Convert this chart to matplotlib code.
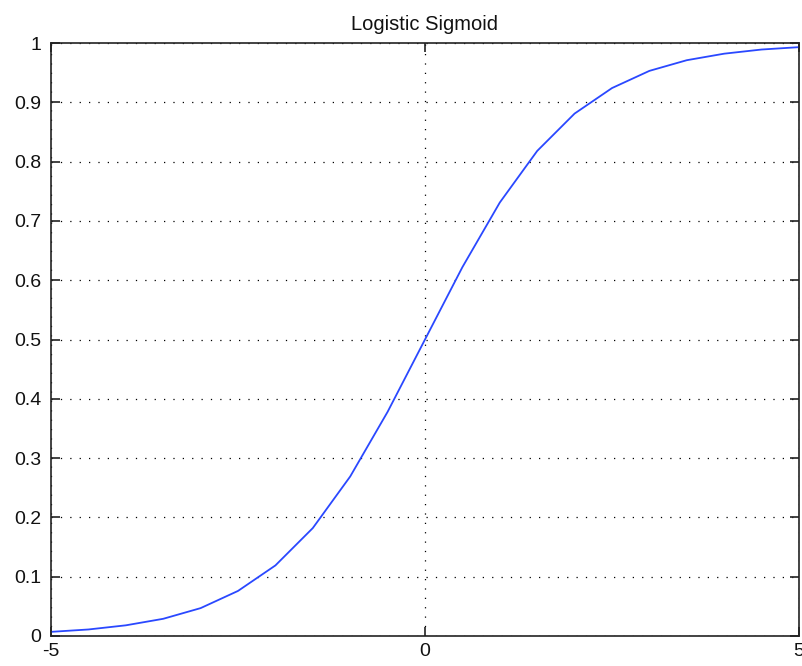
import matplotlib
matplotlib.use("Agg")
import matplotlib.pyplot as plt

# Logistic sigmoid sampled every 0.5
x_vals = [-5.0, -4.5, -4.0, -3.5, -3.0, -2.5, -2.0, -1.5, -1.0, -0.5, 0.0,
          0.5, 1.0, 1.5, 2.0, 2.5, 3.0, 3.5, 4.0, 4.5, 5.0]
y_vals = [0.007, 0.011, 0.018, 0.029, 0.047, 0.076, 0.119, 0.182, 0.269, 0.378, 0.5,
          0.622, 0.731, 0.818, 0.881, 0.924, 0.953, 0.971, 0.982, 0.989, 0.993]

x_ticks = [-5, 0, 5]
x_tick_labels = ["-5", "0", "5"]
y_ticks = [0, 0.1, 0.2, 0.3, 0.4, 0.5, 0.6, 0.7, 0.8, 0.9, 1]
y_tick_labels = ["0", "0.1", "0.2", "0.3", "0.4", "0.5", "0.6", "0.7", "0.8", "0.9", "1"]

plt.rcParams["font.family"] = ["Liberation Sans", "DejaVu Sans"]

W, H = 803, 666
fig = plt.figure(figsize=(W / 100, H / 100), dpi=100)
left, right, top, bottom = 51, 799, 43, 636
ax = fig.add_axes([left / W, (H - bottom) / H, (right - left) / W, (bottom - top) / H])

ax.plot(x_vals, y_vals, color="#2a48ff", linewidth=1.3)

ax.set_xlim(-5, 5)
ax.set_ylim(0, 1)
ax.set_xticks(x_ticks)
ax.set_xticklabels(x_tick_labels)
ax.set_yticks(y_ticks)
ax.set_yticklabels(y_tick_labels)

ax.grid(True, color="black", linewidth=0.9, linestyle=(0, (1, 6.5)))
for line in ax.get_xgridlines() + ax.get_ygridlines():
    line.set_dash_capstyle("butt")

for sp in ax.spines.values():
    sp.set_linewidth(1.2)
    sp.set_color("#222222")

ax.tick_params(direction="in", length=6.5, width=1.2, top=True, right=True,
               labelsize=14, colors="#222222", labelcolor="#111111")
ax.tick_params(axis="y", pad=7)
ax.tick_params(axis="x", pad=5)

ax.set_title("Logistic Sigmoid", fontsize=14.5, pad=9, color="#111111")

fig.savefig("out.png", dpi=100)
